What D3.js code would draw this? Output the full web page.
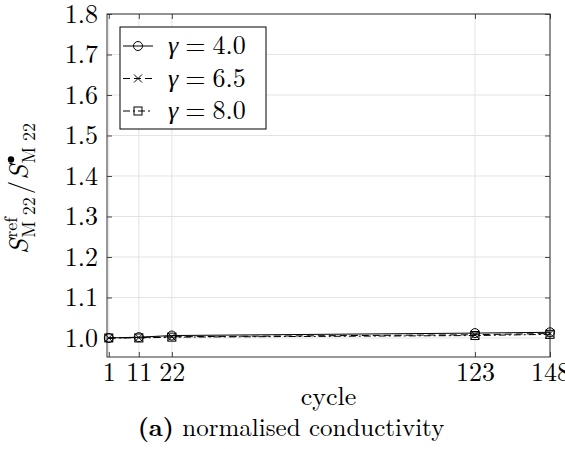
<!DOCTYPE html>
<html lang="en">
<head>
    <meta charset="utf-8">
    <title>Normalised conductivity</title>
    <script type="text/javascript" src="https://cdn.jsdelivr.net/npm/d3@7"></script>
    <style type="text/css">
        body { margin: 0; background: #fff; }
    </style>
</head>
<body>
    <script type="text/javascript">
        // Data
        var cycles = [1, 11, 22, 123, 148];
        var gammaLabels = ["4.0", "6.5", "8.0"];
        var seriesG40 = [1.000, 1.002, 1.006, 1.012, 1.014];
        var seriesG65 = [1.000, 1.001, 1.003, 1.008, 1.011];
        var seriesG80 = [1.000, 1.000, 1.002, 1.006, 1.009];
        var yTicks = [1.0, 1.1, 1.2, 1.3, 1.4, 1.5, 1.6, 1.7, 1.8];

        var w = 565;
        var h = 449;
        var margin = {left: 107, right: 15, top: 14, bottom: 92};
        var FONT = "'Latin Modern Roman', 'Liberation Serif', serif";
        var GREEK = "'Liberation Serif', serif";

        var svg = d3.select("body").append("svg")
            .attr("width", w)
            .attr("height", h)
            .attr("font-family", FONT);

        var x = d3.scaleLinear()
            .domain([0.4, 148])
            .range([margin.left, w - margin.right]);

        var y = d3.scaleLinear()
            .domain([0.953, 1.8])
            .range([h - margin.bottom, margin.top]);

        var x0 = x.range()[0], x1 = x.range()[1];
        var y0 = y.range()[0], y1 = y.range()[1];

        // grid
        svg.append("g").selectAll("line").data(cycles).enter().append("line")
            .attr("x1", d => x(d)).attr("x2", d => x(d))
            .attr("y1", y0).attr("y2", y1)
            .style("stroke", "#e3e3e3").style("stroke-width", 1);
        svg.append("g").selectAll("line").data(yTicks).enter().append("line")
            .attr("x1", x0).attr("x2", x1)
            .attr("y1", d => y(d)).attr("y2", d => y(d))
            .style("stroke", "#e3e3e3").style("stroke-width", 1);

        // axes (ticks inward, mirrored)
        var fmt = d3.format(".1f");
        svg.append("g").attr("transform", "translate(0," + y0 + ")")
            .call(d3.axisBottom(x).tickValues(cycles).tickSizeInner(-5).tickSizeOuter(0).tickPadding(6))
            .call(g => g.select(".domain").remove())
            .selectAll("text").style("font-size", "26px");
        svg.append("g").attr("transform", "translate(0," + y1 + ")")
            .call(d3.axisTop(x).tickValues(cycles).tickSizeInner(-5).tickSizeOuter(0).tickFormat(""))
            .call(g => g.select(".domain").remove());
        svg.append("g").attr("transform", "translate(" + x0 + ",0)")
            .call(d3.axisLeft(y).tickValues(yTicks).tickFormat(fmt).tickSizeInner(-5).tickSizeOuter(0).tickPadding(9))
            .call(g => g.select(".domain").remove())
            .selectAll("text").style("font-size", "26px");
        svg.append("g").attr("transform", "translate(" + x1 + ",0)")
            .call(d3.axisRight(y).tickValues(yTicks).tickSizeInner(-5).tickSizeOuter(0).tickFormat(""))
            .call(g => g.select(".domain").remove());
        svg.selectAll(".tick line").style("stroke", "#444");

        svg.append("rect")
            .attr("x", x0).attr("y", y1)
            .attr("width", x1 - x0).attr("height", y0 - y1)
            .style("fill", "none").style("stroke", "#333").style("stroke-width", 1);

        // series
        var series = [
            {vals: seriesG40, dash: null, marker: "circle"},
            {vals: seriesG65, dash: "7,4", marker: "cross"},
            {vals: seriesG80, dash: "7,3,2,3", marker: "square"}
        ];

        var line = d3.line()
            .x((d, i) => x(cycles[i]))
            .y(d => y(d));

        function drawMarker(g, type, cx, cy) {
            if (type === "circle") {
                g.append("circle").attr("cx", cx).attr("cy", cy).attr("r", 4.5)
                    .style("fill", "none").style("stroke", "#000").style("stroke-width", 1);
            } else if (type === "cross") {
                g.append("path")
                    .attr("d", "M" + (cx - 4) + "," + (cy - 4) + "L" + (cx + 4) + "," + (cy + 4) +
                        "M" + (cx - 4) + "," + (cy + 4) + "L" + (cx + 4) + "," + (cy - 4))
                    .style("stroke", "#000").style("stroke-width", 1);
            } else {
                g.append("rect").attr("x", cx - 4).attr("y", cy - 4).attr("width", 8).attr("height", 8)
                    .style("fill", "none").style("stroke", "#000").style("stroke-width", 1);
            }
        }

        series.forEach(function(s) {
            svg.append("path")
                .datum(s.vals)
                .attr("d", line)
                .style("fill", "none")
                .style("stroke", "#000")
                .style("stroke-width", 1)
                .style("stroke-dasharray", s.dash);
            var g = svg.append("g");
            s.vals.forEach(function(v, i) {
                drawMarker(g, s.marker, x(cycles[i]), y(v));
            });
        });

        // legend
        var lg = svg.append("g");
        lg.append("rect")
            .attr("x", 120).attr("y", 27).attr("width", 146).attr("height", 102)
            .style("fill", "#fff").style("stroke", "#000").style("stroke-width", 1);
        series.forEach(function(s, i) {
            var ly = 46 + i * 32.5;
            lg.append("line")
                .attr("x1", 123).attr("x2", 153).attr("y1", ly).attr("y2", ly)
                .style("stroke", "#000").style("stroke-width", 1)
                .style("stroke-dasharray", s.dash);
            drawMarker(lg, s.marker, 138, ly);
            var t = lg.append("text")
                .attr("x", 168).attr("y", ly + 8)
                .style("font-size", "26px");
            t.append("tspan").attr("class", "greek").style("font-style", "italic").text("γ");
            t.append("tspan").attr("dx", 7).text("=");
            t.append("tspan").attr("dx", 7).text(gammaLabels[i]);
        });

        // axis labels
        svg.append("text")
            .attr("x", (x0 + x1) / 2).attr("y", 405)
            .attr("text-anchor", "middle")
            .style("font-size", "26px")
            .text("cycle");

        // y label, built piece by piece inside a rotated group
        var yg = svg.append("g")
            .attr("transform", "translate(28," + ((y0 + y1) / 2 + 3) + ") rotate(-90)");
        var cx = 0;
        function piece(txt, size, dy, italic) {
            var t = yg.append("text").attr("x", cx).attr("y", dy)
                .style("font-family", FONT)
                .style("font-size", size + "px")
                .style("font-style", italic ? "italic" : "normal")
                .text(txt);
            return t.node().getComputedTextLength();
        }
        function stack(sup, sub) {
            var a = piece(sup, 18, -11, false);
            var b = piece(sub, 18, 7, false);
            cx += Math.max(a, b);
        }
        cx += piece("S", 27, 0, true) + 1;
        stack("ref", "M 22");
        cx += 3;
        cx += piece("/", 27, 0, false) + 1;
        cx += piece("S", 27, 0, true) + 1;
        stack("", "M 22");
        // centre the whole label
        var total = cx;
        yg.selectAll("text").attr("x", function() { return +d3.select(this).attr("x") - total / 2; });
        // the bullet superscript after the second S
        var lastS = yg.selectAll("text").filter(function(d, i) { return i === 5; });
        var bx = +lastS.attr("x") + lastS.node().getComputedTextLength() + 4;
        yg.append("circle").attr("cx", bx).attr("cy", -17).attr("r", 3.2).style("fill", "#000");

        // caption
        var cap = svg.append("text")
            .attr("x", 291).attr("y", 436)
            .attr("text-anchor", "middle")
            .style("font-size", "25px");
        cap.append("tspan").style("font-weight", "bold").text("(a)");
        cap.append("tspan").text(" normalised conductivity");

        svg.selectAll("text").style("font-family", FONT).attr("fill", "#000");
        svg.selectAll("tspan.greek").style("font-family", GREEK);
    </script>
</body>
</html>
